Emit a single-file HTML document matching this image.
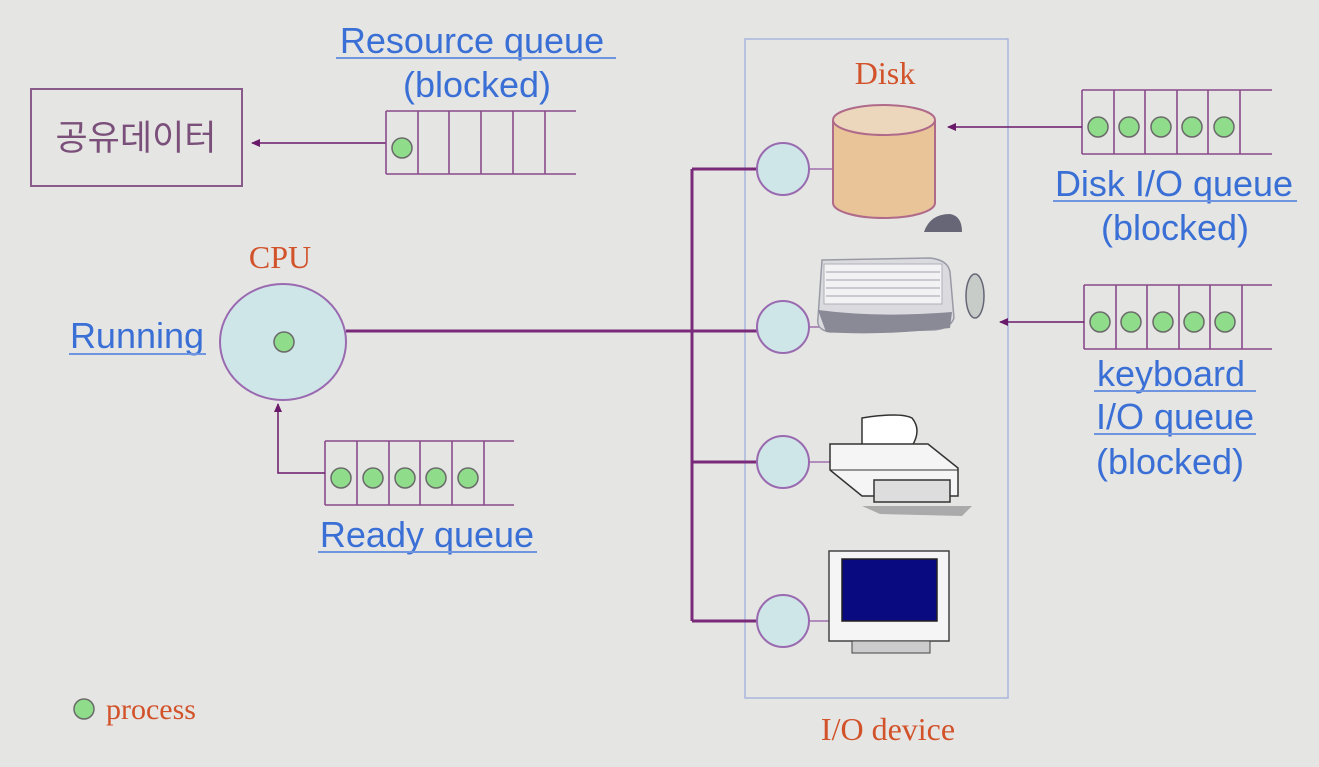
<!DOCTYPE html>
<html><head><meta charset="utf-8"><style>
html,body{margin:0;padding:0;background:#e5e5e3;}
svg{display:block;}
text{font-family:"Liberation Sans","Noto Sans CJK KR",sans-serif;}
.ser{font-family:"Liberation Serif",serif;fill:#d2522a;}
.blue{fill:#3a6fd6;font-size:36px;}
</style></head><body>
<svg width="1319" height="767" viewBox="0 0 1319 767" xmlns="http://www.w3.org/2000/svg">
<defs><marker id="ah" markerWidth="10" markerHeight="10" refX="8" refY="4" orient="auto" markerUnits="userSpaceOnUse"><path d="M0,0 L9,4 L0,8 Z" fill="#6a1a6a"/></marker></defs>
<rect width="1319" height="767" fill="#e5e5e3"/>
<rect x="745" y="39" width="263" height="659" fill="none" stroke="#a9b6dc" stroke-width="1.5"/>
<rect x="31" y="89" width="211" height="97" fill="none" stroke="#8a5a8a" stroke-width="2"/>
<text x="136" y="150" font-size="35" fill="#7a4f7a" text-anchor="middle">공유데이터</text>
<line x1="386" y1="143" x2="252" y2="143" stroke="#6a1a6a" stroke-width="1.5" marker-end="url(#ah)"/>
<g stroke="#8a4a8a" stroke-width="1.6" fill="none">
<line x1="386" y1="111" x2="576" y2="111"/><line x1="386" y1="174" x2="576" y2="174"/>
<line x1="386" y1="111" x2="386" y2="174"/><line x1="418" y1="111" x2="418" y2="174"/><line x1="449" y1="111" x2="449" y2="174"/><line x1="481" y1="111" x2="481" y2="174"/><line x1="513" y1="111" x2="513" y2="174"/><line x1="545" y1="111" x2="545" y2="174"/>
</g>
<circle cx="402" cy="148" r="10" fill="#8fdc8a" stroke="#6a6a6a" stroke-width="1.5"/>
<text x="472" y="53" class="blue" text-anchor="middle">Resource queue</text>
<line x1="336" y1="58" x2="616" y2="58" stroke="#6f95e0" stroke-width="2"/>
<text x="477" y="97" class="blue" text-anchor="middle">(blocked)</text>
<text x="280" y="268" class="ser" font-size="32" text-anchor="middle">CPU</text>
<ellipse cx="283" cy="342" rx="63" ry="58" fill="#cfe6e8" stroke="#9a6ab0" stroke-width="2"/>
<circle cx="284" cy="342" r="10" fill="#8fdc8a" stroke="#6a6a6a" stroke-width="1.5"/>
<text x="137" y="348" class="blue" text-anchor="middle">Running</text>
<line x1="69" y1="354" x2="206" y2="354" stroke="#6f95e0" stroke-width="2"/>
<g stroke="#8a4a8a" stroke-width="1.6" fill="none">
<line x1="325" y1="441" x2="514" y2="441"/><line x1="325" y1="505" x2="514" y2="505"/>
<line x1="325" y1="441" x2="325" y2="505"/><line x1="357" y1="441" x2="357" y2="505"/><line x1="389" y1="441" x2="389" y2="505"/><line x1="420" y1="441" x2="420" y2="505"/><line x1="452" y1="441" x2="452" y2="505"/><line x1="484" y1="441" x2="484" y2="505"/>
</g>
<g fill="#8fdc8a" stroke="#6a6a6a" stroke-width="1.5">
<circle cx="341" cy="478" r="10"/><circle cx="373" cy="478" r="10"/><circle cx="405" cy="478" r="10"/><circle cx="436" cy="478" r="10"/><circle cx="468" cy="478" r="10"/>
</g>
<polyline points="325,473 278,473 278,404" fill="none" stroke="#6a1a6a" stroke-width="1.5" marker-end="url(#ah)"/>
<text x="427" y="547" class="blue" text-anchor="middle">Ready queue</text>
<line x1="318" y1="552" x2="537" y2="552" stroke="#6f95e0" stroke-width="2"/>
<g stroke="#7a2a7a" stroke-width="3" fill="none">
<line x1="346" y1="331" x2="757" y2="331"/>
<line x1="692" y1="169" x2="692" y2="621"/>
<line x1="692" y1="169" x2="757" y2="169"/>
<line x1="692" y1="462" x2="757" y2="462"/>
<line x1="692" y1="621" x2="757" y2="621"/>
</g>
<g stroke="#a070b0" stroke-width="1.5">
<line x1="809" y1="169" x2="833" y2="169"/><line x1="809" y1="327" x2="830" y2="327"/><line x1="809" y1="462" x2="830" y2="462"/><line x1="809" y1="621" x2="830" y2="621"/>
</g>
<g fill="#cfe6e8" stroke="#9a6ab0" stroke-width="2">
<ellipse cx="783" cy="169" rx="26" ry="26"/><ellipse cx="783" cy="327" rx="26" ry="26"/><ellipse cx="783" cy="462" rx="26" ry="26"/><ellipse cx="783" cy="621" rx="26" ry="26"/>
</g>
<text x="885" y="84" class="ser" font-size="32" text-anchor="middle">Disk</text>
<path d="M833,120 L833,203 A51,15 0 0 0 935,203 L935,120" fill="#e8c498" stroke="#b06a8a" stroke-width="2"/>
<ellipse cx="884" cy="120" rx="51" ry="15" fill="#ecd6bc" stroke="#b06a8a" stroke-width="2"/>
<path d="M822,260 L930,258 Q948,260 950,272 L954,318 Q950,330 930,330 L830,332 Q816,330 818,318 Z" fill="#dadadf" stroke="#9a9aa6" stroke-width="1.5"/>
<rect x="824" y="264" width="118" height="40" fill="#f2f2f4" stroke="#b0b0b8"/>
<g stroke="#a0a0aa" stroke-width="1">
<line x1="826" y1="272" x2="940" y2="272"/><line x1="826" y1="280" x2="940" y2="280"/><line x1="826" y1="288" x2="940" y2="288"/><line x1="826" y1="296" x2="940" y2="296"/>
</g>
<path d="M818,310 Q880,318 952,312 L950,328 Q880,336 826,332 Z" fill="#8a8a96"/>
<path d="M924,232 Q930,214 950,214 Q962,216 962,232 Z" fill="#667"/>
<ellipse cx="975" cy="296" rx="9" ry="22" fill="#c8ccc8" stroke="#667" stroke-width="1.5"/>
<path d="M862,418 Q900,412 912,418 Q922,430 912,446 L862,446 Z" fill="#fff" stroke="#333" stroke-width="1.5"/>
<path d="M830,444 L928,444 L958,468 L958,496 L862,496 L830,470 Z" fill="#f5f5f5" stroke="#333" stroke-width="1.5"/>
<line x1="830" y1="470" x2="958" y2="470" stroke="#333"/>
<rect x="874" y="480" width="76" height="22" fill="#ddd" stroke="#333" stroke-width="1.5"/>
<path d="M862,506 L972,506 L962,516 L880,514 Z" fill="#aaa"/>
<rect x="829" y="551" width="120" height="90" fill="#f5f5f5" stroke="#444" stroke-width="1.5"/>
<rect x="842" y="559" width="95" height="62" fill="#0a0a80" stroke="#222" stroke-width="1.5"/>
<rect x="852" y="641" width="78" height="12" fill="#ccc" stroke="#444"/>
<text x="888" y="740" class="ser" font-size="32" text-anchor="middle">I/O device</text>
<g stroke="#8a4a8a" stroke-width="1.6" fill="none">
<line x1="1082" y1="90" x2="1272" y2="90"/><line x1="1082" y1="154" x2="1272" y2="154"/>
<line x1="1082" y1="90" x2="1082" y2="154"/><line x1="1114" y1="90" x2="1114" y2="154"/><line x1="1145" y1="90" x2="1145" y2="154"/><line x1="1177" y1="90" x2="1177" y2="154"/><line x1="1208" y1="90" x2="1208" y2="154"/><line x1="1240" y1="90" x2="1240" y2="154"/>
</g>
<g fill="#8fdc8a" stroke="#6a6a6a" stroke-width="1.5">
<circle cx="1098" cy="127" r="10"/><circle cx="1129" cy="127" r="10"/><circle cx="1161" cy="127" r="10"/><circle cx="1192" cy="127" r="10"/><circle cx="1224" cy="127" r="10"/>
</g>
<line x1="1082" y1="127" x2="948" y2="127" stroke="#6a1a6a" stroke-width="1.5" marker-end="url(#ah)"/>
<text x="1174" y="196" class="blue" text-anchor="middle">Disk I/O queue</text>
<line x1="1053" y1="201" x2="1297" y2="201" stroke="#6f95e0" stroke-width="2"/>
<text x="1175" y="240" class="blue" text-anchor="middle">(blocked)</text>
<g stroke="#8a4a8a" stroke-width="1.6" fill="none">
<line x1="1084" y1="285" x2="1272" y2="285"/><line x1="1084" y1="349" x2="1272" y2="349"/>
<line x1="1084" y1="285" x2="1084" y2="349"/><line x1="1116" y1="285" x2="1116" y2="349"/><line x1="1147" y1="285" x2="1147" y2="349"/><line x1="1179" y1="285" x2="1179" y2="349"/><line x1="1210" y1="285" x2="1210" y2="349"/><line x1="1242" y1="285" x2="1242" y2="349"/>
</g>
<g fill="#8fdc8a" stroke="#6a6a6a" stroke-width="1.5">
<circle cx="1100" cy="322" r="10"/><circle cx="1131" cy="322" r="10"/><circle cx="1163" cy="322" r="10"/><circle cx="1194" cy="322" r="10"/><circle cx="1225" cy="322" r="10"/>
</g>
<line x1="1084" y1="322" x2="1000" y2="322" stroke="#6a1a6a" stroke-width="1.5" marker-end="url(#ah)"/>
<text x="1171" y="386" class="blue" text-anchor="middle">keyboard</text>
<line x1="1094" y1="391" x2="1256" y2="391" stroke="#6f95e0" stroke-width="2"/>
<text x="1175" y="429" class="blue" text-anchor="middle">I/O queue</text>
<line x1="1094" y1="434" x2="1256" y2="434" stroke="#6f95e0" stroke-width="2"/>
<text x="1170" y="474" class="blue" text-anchor="middle">(blocked)</text>
<circle cx="84" cy="709" r="10" fill="#8fdc8a" stroke="#6a6a6a" stroke-width="1.5"/>
<text x="106" y="719" class="ser" font-size="30">process</text>
</svg>
</body></html>
